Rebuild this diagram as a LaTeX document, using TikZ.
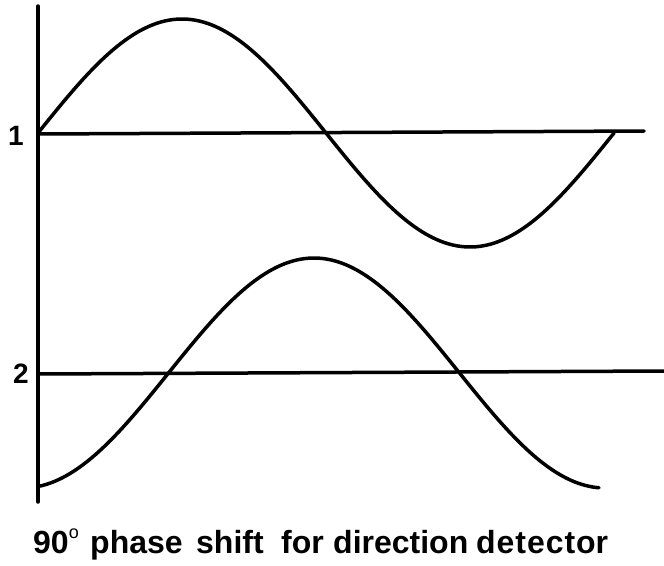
\documentclass[tikz,border=0pt]{standalone}
\usepackage{fontspec}
\setmainfont{Liberation Sans}
\begin{document}
\begin{tikzpicture}[x=1pt,y=-1pt,
  ink/.style={line width=3.5pt, line cap=round, line join=round},
  lbl/.style={font=\bfseries\fontsize{28}{28}\selectfont, inner sep=0pt, anchor=base east},
  word/.style={font=\bfseries\fontsize{32}{32}\selectfont, inner sep=0pt, anchor=base west}]
\useasboundingbox (0,0) rectangle (664,565);
% axis
\coordinate (axtop) at (38,6);
\coordinate (axbot) at (38,502);
\draw[ink] (axtop) -- (axbot);
% base lines
\coordinate (l1a) at (38,134);
\coordinate (l1b) at (644,131);
\coordinate (l2a) at (38,374);
\coordinate (l2b) at (664,371);
\draw[ink] (l1a) -- (l1b);
\draw[ink] (l2a) -- (l2b);
% curves
\draw[ink] plot[domain=38:614, samples=160, smooth] (\x, {133 - 114*sin((\x-38)/576*360)});
\draw[ink] plot[domain=40:599, samples=160, smooth] (\x, {373 - 115*cos((\x-314)/582*360)});
% labels
\node[lbl] (one) at (24,145) {1};
\node[lbl] (two) at (29,383) {2};
% caption
\node[word] (w1) at (33,553) {90\raisebox{15pt}{\fontsize{18}{18}\selectfont\mdseries o}};
\node[word] (w2) at (90,553) {phase};
\node[word] (w3) at (196,553) {shift};
\node[word] (w4) at (281,553) {for};
\node[word] (w5) at (333,553) {direction};
\node[word] (w6) at (476,553) {\addfontfeature{LetterSpace=3}detecto\addfontfeature{LetterSpace=0}r};
\end{tikzpicture}
\end{document}
